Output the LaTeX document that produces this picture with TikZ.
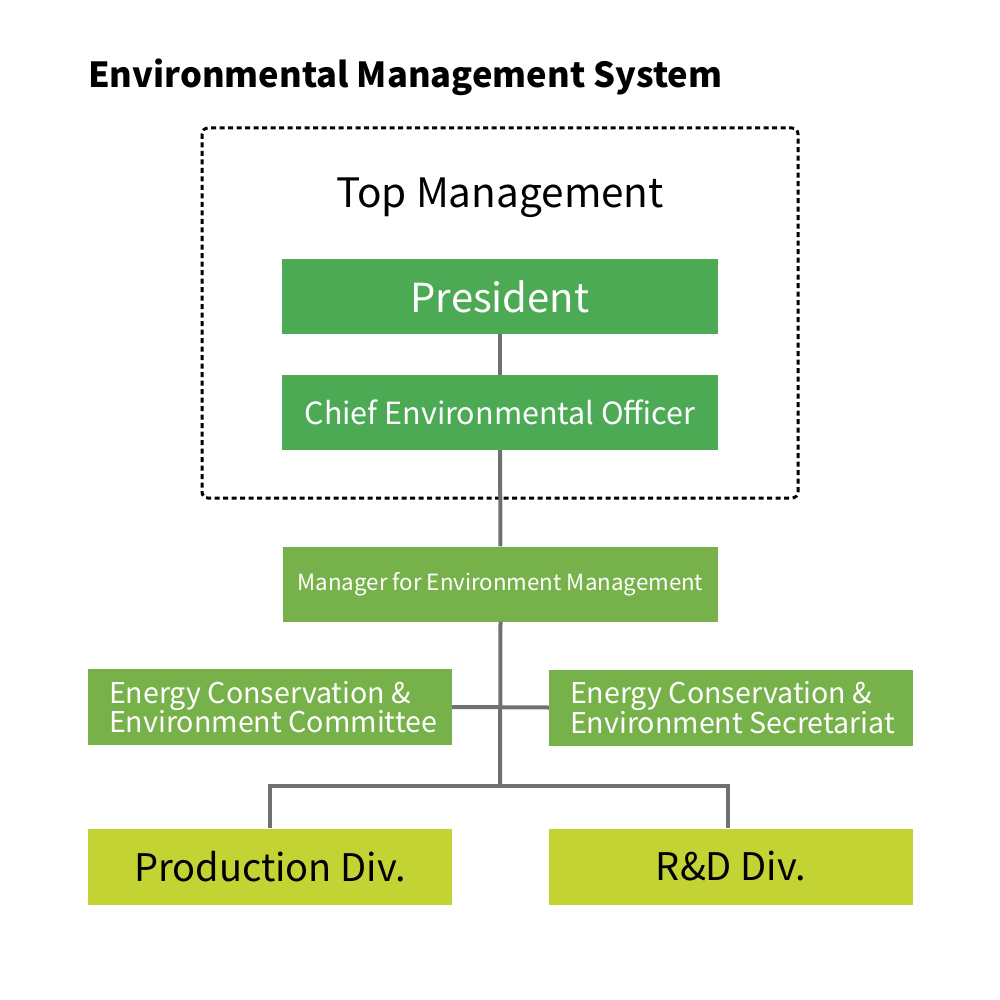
\documentclass[tikz,border=0pt]{standalone}
\usepackage{fontspec}
\setmainfont{Noto Sans CJK JP}
\usetikzlibrary{positioning}
\definecolor{darkgreen}{HTML}{4CAA55}
\definecolor{midgreen}{HTML}{77B14A}
\definecolor{limegreen}{HTML}{C3D334}
\definecolor{linegray}{HTML}{707070}
\newcommand{\sidefont}{\fontsize{28.6}{29.5}\selectfont\hyphenpenalty=10000\relax}
\begin{document}
\begin{tikzpicture}[x=1pt,y=-1pt,
		box/.style={minimum width=436pt, minimum height=75pt, inner sep=0pt, text=white},
		side/.style={fill=midgreen, text=white, text width=322pt, inner xsep=21pt,
			inner ysep=0pt, minimum height=76pt, align=left, font=\sidefont,
			execute at begin node={\spaceskip=0pt\xspaceskip=0pt\rightskip=-30pt plus 1fil\relax}},
		div/.style={fill=limegreen, minimum width=364pt, minimum height=76pt,
			inner sep=0pt, font=\fontsize{38}{38}\selectfont},
		link/.style={draw=linegray, line width=4pt}]
		\useasboundingbox (0,0) rectangle (1000,1000);
		\node[anchor=base west, inner sep=0pt, font=\bfseries\fontsize{34.5}{34.5}\selectfont] (title) at (88,88) {Environmental Management System};
		\draw[line width=3pt, dash pattern=on 5pt off 3.5pt, rounded corners=6pt] (202,128) rectangle (798,498);
		\node[anchor=base, font=\fontsize{40.5}{40.5}\selectfont] (top) at (500,208) {Top Management};
		\node[box, fill=darkgreen, font=\fontsize{40}{40}\selectfont] (pres) at (500,296.5) {President};
		\node[box, fill=darkgreen, font=\fontsize{30.5}{30.5}\selectfont] (ceo) at (500,412.5) {Chief Environmental Officer};
		\node[box, fill=midgreen, minimum width=435pt, font=\fontsize{22.3}{22.3}\selectfont] (mgr) at (500.5,584) {Manager for Environment Management};
		\node[side] (com) at (270,707) {Energy Conservation \&\\Environment Committee};
		\node[side] (sec) at (731,707.5) {Energy Conservation \&\\Environment Secretariat};
		\node[div] (prod) at (270,866.5) {Production Div.};
		\node[div] (rd) at (731,866.5) {R\&D Div.};
		% connectors
		\path[link] (pres) -- (ceo);
		\path[link] (ceo) -- (mgr);
		\path[link] (mgr.south) -- (500,786) coordinate (fork);
		\path[link] (com.east) -- (sec.west);
		\path[link] (prod.north) |- (fork) -| ([xshift=-3pt]rd.north);
\end{tikzpicture}
\end{document}
